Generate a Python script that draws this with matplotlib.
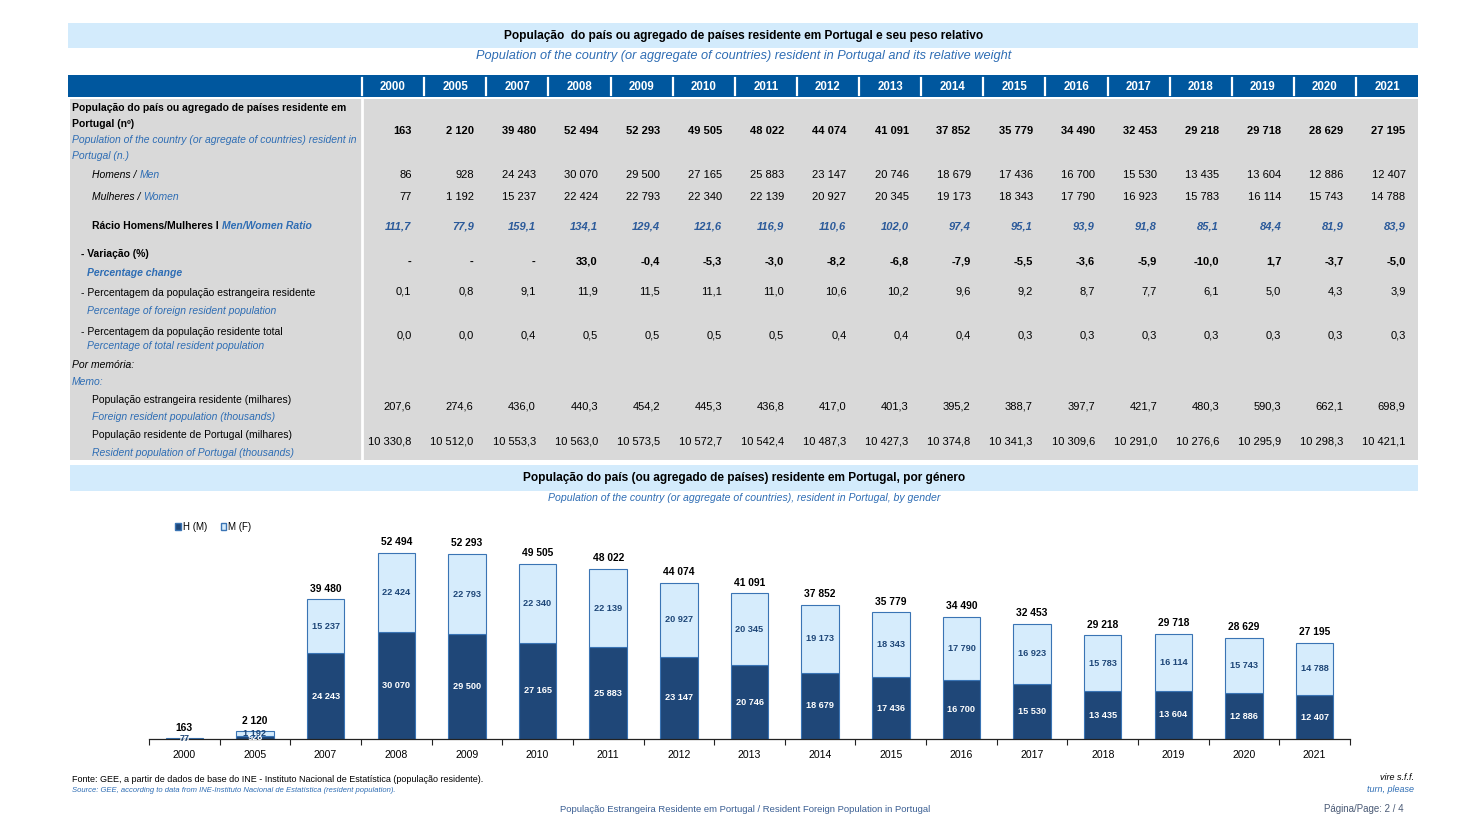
import matplotlib
matplotlib.use("Agg")
import matplotlib.pyplot as plt
from matplotlib.patches import Rectangle, Patch
import numpy as np

plt.rcParams['font.family'] = ['Liberation Sans', 'DejaVu Sans']

# ---------------- data ----------------
years = ["2000", "2005", "2007", "2008", "2009", "2010", "2011", "2012", "2013",
         "2014", "2015", "2016", "2017", "2018", "2019", "2020", "2021"]
total = [163, 2120, 39480, 52494, 52293, 49505, 48022, 44074, 41091, 37852,
         35779, 34490, 32453, 29218, 29718, 28629, 27195]
men = [86, 928, 24243, 30070, 29500, 27165, 25883, 23147, 20746, 18679,
       17436, 16700, 15530, 13435, 13604, 12886, 12407]
women = [77, 1192, 15237, 22424, 22793, 22340, 22139, 20927, 20345, 19173,
         18343, 17790, 16923, 15783, 16114, 15743, 14788]
ratio = [111.7, 77.9, 159.1, 134.1, 129.4, 121.6, 116.9, 110.6, 102.0, 97.4,
         95.1, 93.9, 91.8, 85.1, 84.4, 81.9, 83.9]
variation = [None, None, None, 33.0, -0.4, -5.3, -3.0, -8.2, -6.8, -7.9,
             -5.5, -3.6, -5.9, -10.0, 1.7, -3.7, -5.0]
pct_foreign = [0.1, 0.8, 9.1, 11.9, 11.5, 11.1, 11.0, 10.6, 10.2, 9.6,
               9.2, 8.7, 7.7, 6.1, 5.0, 4.3, 3.9]
pct_total = [0.0, 0.0, 0.4, 0.5, 0.5, 0.5, 0.5, 0.4, 0.4, 0.4,
             0.3, 0.3, 0.3, 0.3, 0.3, 0.3, 0.3]
foreign_pop = [207.6, 274.6, 436.0, 440.3, 454.2, 445.3, 436.8, 417.0, 401.3, 395.2,
               388.7, 397.7, 421.7, 480.3, 590.3, 662.1, 698.9]
resident_pop = [10330.8, 10512.0, 10553.3, 10563.0, 10573.5, 10572.7, 10542.4, 10487.3,
                10427.3, 10374.8, 10341.3, 10309.6, 10291.0, 10276.6, 10295.9, 10298.3, 10421.1]
legend_labels = ["H (M)", "M (F)"]


def fmt_int(v):
    return f"{v:,}".replace(",", " ")


def fmt_dec(v):
    if v is None:
        return "-"
    s = f"{v:,.1f}"
    return s.replace(",", " ").replace(".", ",")


# ---------------- colours ----------------
BAND = "#d3ebfc"
HEAD = "#00579e"
GRAY = "#d9d9d9"
BLUE_TXT = "#2e6db4"
DARK_BAR = "#1f4778"
LIGHT_BAR = "#d6ecfc"
BAR_EDGE = "#3a74b4"

LBL = 7.5   # label font size
VAL = 8.0   # value font size

W, H = 1473, 824
fig = plt.figure(figsize=(W / 100, H / 100), dpi=100)
bg = fig.add_axes([0, 0, 1, 1])
bg.set_xlim(0, W)
bg.set_ylim(H, 0)
bg.axis("off")

# ---------------- title band ----------------
bg.add_patch(Rectangle((68, 23), 1350, 25, color=BAND, lw=0))
bg.text(744, 35.5, "População  do país ou agregado de países residente em Portugal e seu peso relativo",
        ha="center", va="center", fontsize=8.6, fontweight="bold", color="black")
bg.text(744, 55.5, "Population of the country (or aggregate of countries) resident in Portugal and its relative weight",
        ha="center", va="center", fontsize=9.2, style="italic", color=BLUE_TXT)

# ---------------- table header ----------------
bg.add_patch(Rectangle((68, 75), 1350, 22, color=HEAD, lw=0))
col0, dcol = 393.0, 62.13
for i, y in enumerate(years):
    cx = col0 + i * dcol
    bg.text(cx, 86.5, y, ha="center", va="center", fontsize=8.3, fontweight="bold", color="white")
    sx = 362 + i * dcol
    bg.plot([sx, sx], [78, 95], color="white", lw=1.6)

# ---------------- table body ----------------
bg.add_patch(Rectangle((70, 99), 1348, 361, color=GRAY, lw=0))
bg.plot([362, 362], [99, 460], color="white", lw=2)


def label(x, y, s, color="black", weight="normal", style="normal", size=LBL):
    return bg.text(x, y, s, ha="left", va="center", fontsize=size, fontweight=weight,
                   style=style, color=color)


def label2(x, y, s1, s2, kw1, kw2, size=LBL):
    t1 = bg.text(x, y, s1, ha="left", va="center", fontsize=size, **kw1)
    bg.annotate(s2, xy=(1, 0.5), xycoords=t1, ha="left", va="center", fontsize=size, **kw2)


label(72, 108, "População do país ou agregado de países residente em", weight="bold")
label(72, 123.5, "Portugal (nº)", weight="bold")
label(72, 140, "Population of the country (or agregate of countries) resident in", color=BLUE_TXT, style="italic")
label(72, 156, "Portugal (n.)", color=BLUE_TXT, style="italic")
label2(92, 175, "Homens / ", "Men", dict(style="italic", color="black"), dict(style="italic", color=BLUE_TXT))
label2(92, 197, "Mulheres / ", "Women", dict(style="italic", color="black"), dict(style="italic", color=BLUE_TXT))
label2(92, 226, "Rácio Homens/Mulheres I ", "Men/Women Ratio", dict(weight="bold", color="black"),
       dict(weight="bold", style="italic", color=BLUE_TXT))
label(81, 254, "- Variação (%)", weight="bold")
label(87, 273, "Percentage change", weight="bold", style="italic", color=BLUE_TXT)
label(81, 293, "- Percentagem da população estrangeira residente")
label(87, 311, "Percentage of foreign resident population", style="italic", color=BLUE_TXT)
label(81, 332, "- Percentagem da população residente total")
label(87, 346, "Percentage of total resident population", style="italic", color=BLUE_TXT)
label(72, 365, "Por memória:", style="italic")
label(72, 382, "Memo:", style="italic", color=BLUE_TXT)
label(92, 400, "População estrangeira residente (milhares)")
label(92, 417, "Foreign resident population (thousands)", style="italic", color=BLUE_TXT)
label(92, 435, "População residente de Portugal (milhares)")
label(92, 453, "Resident population of Portugal (thousands)", style="italic", color=BLUE_TXT)

rows = [
    (131, [fmt_int(v) for v in total], dict(fontweight="bold", color="black")),
    (175, [fmt_int(v) for v in men], dict(color="black")),
    (197, [fmt_int(v) for v in women], dict(color="black")),
    (226, [fmt_dec(v) for v in ratio], dict(fontweight="bold", style="italic", color="#2b5a9a")),
    (262, [fmt_dec(v) for v in variation], dict(fontweight="bold", color="black")),
    (292, [fmt_dec(v) for v in pct_foreign], dict(color="black")),
    (335, [fmt_dec(v) for v in pct_total], dict(color="black")),
    (406, [fmt_dec(v) for v in foreign_pop], dict(color="black")),
    (441, [fmt_dec(v) for v in resident_pop], dict(color="black")),
]
for ypos, vals, kw in rows:
    for i, s in enumerate(vals):
        bg.text(col0 + i * dcol + 18.5, ypos, s, ha="right", va="center", fontsize=VAL, **kw)

# ---------------- second title band ----------------
bg.add_patch(Rectangle((70, 465), 1348, 26, color=BAND, lw=0))
bg.text(744, 477.5, "População do país (ou agregado de países) residente em Portugal, por género",
        ha="center", va="center", fontsize=8.6, fontweight="bold", color="black")
bg.text(744, 497.5, "Population of the country (or aggregate of countries), resident in Portugal, by gender",
        ha="center", va="center", fontsize=7.6, style="italic", color=BLUE_TXT)

# ---------------- bar chart ----------------
ax_l, ax_r, ax_b, ax_t = 149, 1350, 739, 500
ax = fig.add_axes([ax_l / W, (H - ax_b) / H, (ax_r - ax_l) / W, (ax_b - ax_t) / H])
ax.patch.set_alpha(0)
x = np.arange(len(years))
bw = 0.53
ax.bar(x, men, bw, color=DARK_BAR, edgecolor=BAR_EDGE, lw=0.8, zorder=2)
ax.bar(x, women, bw, bottom=men, color=LIGHT_BAR, edgecolor=BAR_EDGE, lw=0.8, zorder=2)
ax.set_xlim(-0.5, len(years) - 0.5)
ymax = (ax_b - ax_t) / ((ax_b - 553) / 52494)
ax.set_ylim(0, ymax)

for i in range(len(years)):
    ax.text(x[i], men[i] / 2, fmt_int(men[i]), ha="center", va="center", fontsize=6.6,
            fontweight="bold", color="white", zorder=3)
    ax.text(x[i], men[i] + women[i] / 2, fmt_int(women[i]), ha="center", va="center", fontsize=6.6,
            fontweight="bold", color=DARK_BAR, zorder=3)
    ax.annotate(fmt_int(total[i]), xy=(x[i], total[i]), xytext=(0, 4), textcoords="offset points",
                ha="center", va="bottom", fontsize=7.4, fontweight="bold", color="black")

for s in ["top", "right", "left"]:
    ax.spines[s].set_visible(False)
ax.spines["bottom"].set_color("#222222")
ax.spines["bottom"].set_linewidth(0.9)
ax.set_yticks([])
ax.set_xticks(np.arange(-0.5, len(years), 1.0))
ax.set_xticklabels([])
ax.tick_params(axis="x", which="major", direction="out", length=4, width=0.8, color="#222222")
ax.set_xticks(x, minor=True)
ax.set_xticklabels(years, minor=True, fontsize=7.6)
ax.tick_params(axis="x", which="minor", length=0, pad=8)

handles = [Patch(facecolor=DARK_BAR, edgecolor=BAR_EDGE), Patch(facecolor=LIGHT_BAR, edgecolor=BAR_EDGE)]
fig.legend(handles, legend_labels, loc="center left", bbox_to_anchor=(170 / W, 1 - 527 / H),
           ncol=2, frameon=False, fontsize=7, handlelength=0.6, handleheight=0.6,
           handletextpad=0.2, columnspacing=1.4, borderpad=0)

# ---------------- footer ----------------
bg.text(72, 779, "Fonte: GEE, a partir de dados de base do INE - Instituto Nacional de Estatística (população residente).",
        ha="left", va="center", fontsize=6.5, color="black")
bg.text(72, 791, "Source: GEE, according to data from INE-Instituto Nacional de Estatística (resident population).",
        ha="left", va="center", fontsize=5.5, style="italic", color=BLUE_TXT)
bg.text(1414, 778, "vire s.f.f.", ha="right", va="center", fontsize=6.5, style="italic", color="black")
bg.text(1414, 789, "turn, please", ha="right", va="center", fontsize=6.5, style="italic", color=BLUE_TXT)
bg.text(745, 809, "População Estrangeira Residente em Portugal / Resident Foreign Population in Portugal",
        ha="center", va="center", fontsize=6.8, color="#3b5f93")
bg.text(1404, 809, "Página/Page: 2 / 4", ha="right", va="center", fontsize=7, color="#4a5a75")

fig.savefig("out.png", dpi=100)
